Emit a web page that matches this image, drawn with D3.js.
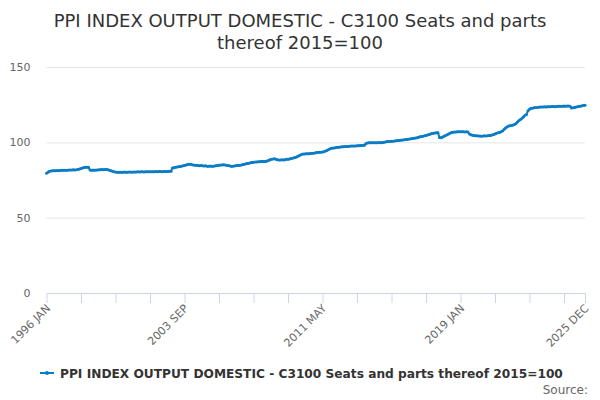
<!DOCTYPE html>
<html>
<head>
<meta charset="utf-8">
<script src="https://cdn.jsdelivr.net/npm/d3@7"></script>
<style>
  body { margin: 0; background: #fff; }
  svg { font-family: "DejaVu Sans", sans-serif; }
</style>
</head>
<body>
<div id="chart"></div>
<script>
var title = ["PPI INDEX OUTPUT DOMESTIC - C3100 Seats and parts", "thereof 2015=100"];
var seriesName = "PPI INDEX OUTPUT DOMESTIC - C3100 Seats and parts thereof 2015=100";

var years = d3.range(1996, 2026);
var months = ["JAN", "FEB", "MAR", "APR", "MAY", "JUN", "JUL", "AUG", "SEP", "OCT", "NOV", "DEC"];

// one row per year, JAN..DEC
var values = [
  79.5, 80.2, 80.8, 81.0, 81.1, 81.2, 81.2, 81.3, 81.2, 81.3, 81.4, 81.5,
  81.4, 81.5, 81.5, 81.6, 81.6, 81.7, 81.8, 81.7, 81.8, 82.0, 82.3, 82.6,
  83.0, 83.3, 83.4, 83.5, 83.4, 81.6, 81.5, 81.6, 81.5, 81.6, 81.7, 81.8,
  81.8, 81.9, 81.8, 81.9, 82.0, 81.8, 81.5, 81.1, 80.8, 80.5, 80.3, 80.2,
  80.2, 80.1, 80.2, 80.2, 80.3, 80.2, 80.2, 80.3, 80.3, 80.2, 80.3, 80.3,
  80.3, 80.4, 80.3, 80.4, 80.4, 80.3, 80.4, 80.5, 80.5, 80.5, 80.4, 80.5,
  80.5, 80.6, 80.5, 80.6, 80.6, 80.5, 80.6, 80.7, 80.6, 80.7, 80.8, 80.8,
  83.0, 83.2, 83.4, 83.6, 83.8, 84.0, 84.2, 84.4, 84.6, 85.0, 85.3, 85.5,
  85.4, 85.2, 85.0, 84.8, 84.8, 84.7, 84.5, 84.6, 84.4, 84.3, 84.4, 84.2,
  84.2, 84.3, 84.1, 84.2, 84.3, 84.5, 84.6, 84.8, 84.9, 85.0, 85.1, 85.0,
  84.8, 84.6, 84.4, 84.2, 84.2, 84.3, 84.4, 84.6, 84.6, 84.8, 85.0, 85.3,
  85.5, 85.8, 86.0, 86.2, 86.4, 86.6, 86.8, 87.0, 87.0, 87.1, 87.1, 87.2,
  87.2, 87.2, 87.3, 87.6, 88.0, 88.5, 88.8, 89.0, 89.1, 88.8, 88.5, 88.3,
  88.3, 88.4, 88.3, 88.5, 88.7, 88.8, 89.0, 89.2, 89.5, 89.8, 90.0, 90.5,
  91.0, 91.5, 92.0, 92.2, 92.3, 92.4, 92.5, 92.5, 92.6, 92.7, 92.8, 93.0,
  93.2, 93.3, 93.4, 93.5, 93.6, 93.8, 94.2, 94.6, 95.2, 95.7, 96.0, 96.2,
  96.3, 96.5, 96.7, 96.8, 96.9, 97.0, 97.1, 97.2, 97.2, 97.3, 97.4, 97.5,
  97.5, 97.6, 97.6, 97.7, 97.8, 97.9, 97.9, 98.0, 98.1, 99.2, 99.6, 99.7,
  99.7, 99.8, 99.8, 99.7, 99.8, 99.8, 99.9, 99.8, 99.9, 100.0, 100.3, 100.5,
  100.5, 100.6, 100.7, 100.8, 100.9, 101.0, 101.2, 101.2, 101.4, 101.5, 101.6, 101.8,
  101.9, 102.1, 102.2, 102.4, 102.6, 102.7, 102.9, 103.1, 103.4, 103.7, 103.9, 104.1,
  104.3, 104.6, 104.9, 105.2, 105.5, 105.8, 106.0, 106.2, 106.3, 106.3, 103.2, 103.0,
  103.5, 104.0, 104.5, 105.0, 105.5, 106.0, 106.5, 106.7, 106.8, 106.9, 107.0, 107.0,
  107.0, 107.1, 107.0, 106.9, 107.0, 106.8, 105.5, 105.0, 104.7, 104.5, 104.4, 104.3,
  104.2, 104.2, 104.1, 104.2, 104.3, 104.2, 104.3, 104.5, 104.6, 104.8, 105.2, 105.6,
  106.0, 106.4, 106.6, 107.0, 107.5, 108.5, 109.5, 110.2, 110.8, 111.0, 111.2, 111.5,
  111.8, 112.5, 113.5, 114.5, 115.2, 116.0, 117.0, 118.0, 118.5, 121.0, 122.0, 122.6,
  122.7, 122.9, 123.1, 123.2, 123.3, 123.4, 123.5, 123.5, 123.6, 123.5, 123.6, 123.7,
  123.7, 123.8, 123.8, 123.7, 123.8, 123.9, 124.0, 123.9, 124.0, 124.1, 124.0, 124.1,
  124.1, 124.0, 122.8, 122.9, 123.1, 123.4, 123.6, 123.9, 124.0, 124.3, 124.5, 124.6
];

var yTicks = [0, 50, 100, 150];

var categories = [];
years.forEach(function(y) {
  months.forEach(function(m) { categories.push(y + " " + m); });
});

var data = categories.map(function(c, i) { return {cat: c, value: values[i]}; });

var width = 600, height = 400;
var plotLeft = 46.5, plotRight = 585, plotTop = 67, plotBottom = 293;
var color = "#0b7cc5";

var svg = d3.select("#chart").append("svg")
    .attr("width", width)
    .attr("height", height);

var x = d3.scalePoint().domain(categories).range([plotLeft, plotRight]);
var y = d3.scaleLinear().domain([0, 150]).range([plotBottom, plotTop]);

// title
svg.append("text")
    .attr("x", width / 2)
    .attr("y", 27)
    .attr("text-anchor", "middle")
    .attr("font-size", "18px")
    .attr("fill", "#333333")
    .selectAll("tspan")
    .data(title)
    .enter().append("tspan")
    .attr("x", width / 2)
    .attr("dy", function(d, i) { return i ? 22 : 0; })
    .text(function(d) { return d; });

// gridlines + y labels
var yAxis = d3.axisLeft(y).tickValues(yTicks).tickSize(-(plotRight - plotLeft)).tickPadding(16);
var gy = svg.append("g")
    .attr("transform", "translate(" + plotLeft + ",0)")
    .call(yAxis);
gy.select(".domain").remove();
gy.selectAll(".tick line").attr("stroke", "#e6e6e6");
gy.selectAll(".tick text")
    .attr("fill", "#666666")
    .attr("font-size", "11px")
    .attr("font-family", "DejaVu Sans, sans-serif");
gy.selectAll(".tick").filter(function(d) { return d === 0; }).select("line").remove();

// x axis: tick every 23 months, label every 92 plus last
var tickCats = categories.filter(function(c, i) { return i % 23 === 0 || i === categories.length - 1; });
var xAxis = d3.axisBottom(x)
    .tickValues(tickCats)
    .tickSize(10)
    .tickSizeOuter(0)
    .tickFormat(function(d) {
      var i = categories.indexOf(d);
      return (i % 92 === 0 || i === categories.length - 1) ? d : "";
    });
var gx = svg.append("g")
    .attr("transform", "translate(0," + plotBottom + ")")
    .call(xAxis);
gx.select(".domain").attr("stroke", "#ccd6eb").attr("d", "M" + plotLeft + ",0.5H" + plotRight);
gx.selectAll(".tick line").attr("stroke", "#ccd6eb");
gx.selectAll(".tick text")
    .attr("fill", "#666666")
    .attr("font-size", "11px")
    .attr("font-family", "DejaVu Sans, sans-serif")
    .attr("text-anchor", "end")
    .attr("dy", null)
    .attr("y", 0)
    .attr("transform", "translate(4,16) rotate(-45)");

// series
var line = d3.line()
    .x(function(d) { return x(d.cat); })
    .y(function(d) { return y(d.value); });

svg.append("path")
    .datum(data)
    .attr("fill", "none")
    .attr("stroke", color)
    .attr("stroke-width", 2)
    .attr("d", line);

svg.append("g").selectAll("circle")
    .data(data)
    .enter().append("circle")
    .attr("cx", function(d) { return x(d.cat); })
    .attr("cy", function(d) { return y(d.value); })
    .attr("r", 1.5)
    .attr("fill", color);

// legend
var lg = svg.append("g").attr("transform", "translate(40,373)");
lg.append("line")
    .attr("x1", 0).attr("x2", 14)
    .attr("y1", 0).attr("y2", 0)
    .attr("stroke", color)
    .attr("stroke-width", 2);
lg.append("circle")
    .attr("cx", 7).attr("cy", 0).attr("r", 2)
    .attr("fill", color);
lg.append("text")
    .attr("x", 20)
    .attr("y", 4.5)
    .attr("font-size", "12.2px")
    .attr("font-weight", "bold")
    .attr("fill", "#333333")
    .text(seriesName);

svg.append("text")
    .attr("x", 588)
    .attr("y", 394)
    .attr("text-anchor", "end")
    .attr("font-size", "12px")
    .attr("fill", "#666666")
    .text("Source:");
</script>
</body>
</html>
